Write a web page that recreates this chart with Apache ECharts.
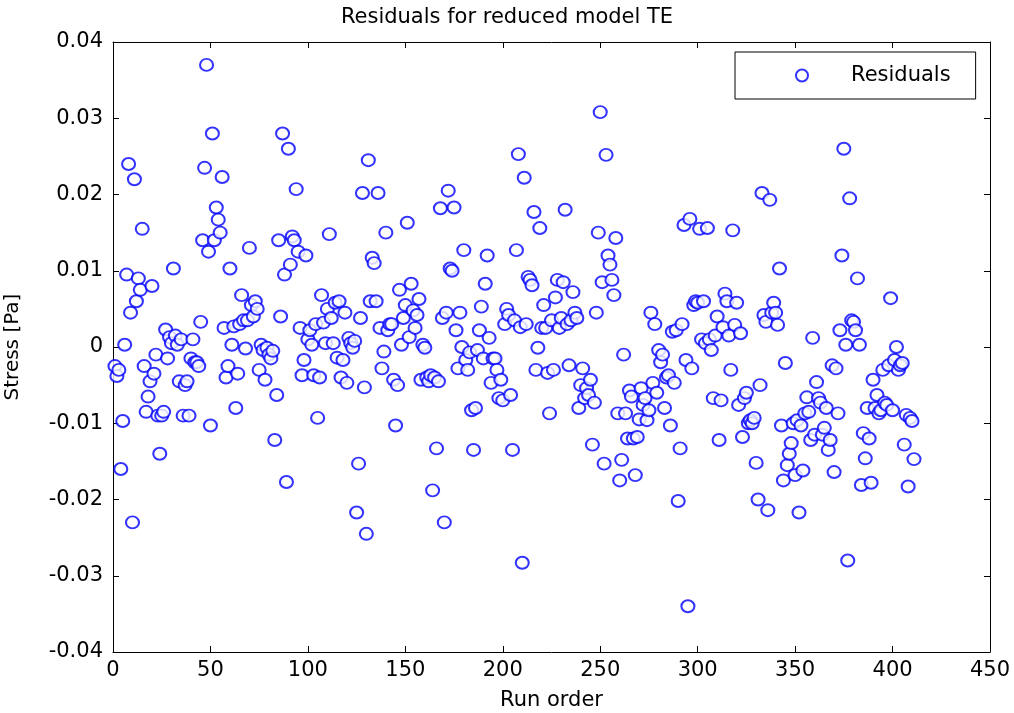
<!DOCTYPE html>
<html>
<head>
<meta charset="utf-8">
<script src="https://cdn.jsdelivr.net/npm/echarts@6/dist/echarts.min.js"></script>
<style>
html,body{margin:0;padding:0;background:#fff;}
#main{width:1014px;height:713px;}
</style>
</head>
<body>
<div id="main"></div>
<script>
const titleText = "Residuals for reduced model TE";
const xName = "Run order";
const yName = "Stress [Pa]";
const seriesName = "Residuals";
const xTicks = {min: 0, max: 450, interval: 50};
const yTicks = {min: -0.04, max: 0.04, interval: 0.01};

// residual values in run order (run = index + 1)
const residuals = [
 -0.0025,-0.0038,-0.003,-0.016,-0.0097,0.0003,0.0095,0.024,0.0045,-0.023,0.022,
 0.006,0.009,0.0075,0.0155,-0.0025,-0.0085,-0.0065,-0.0045,0.008,-0.0035,
 -0.001,-0.009,-0.014,-0.009,-0.0085,0.0023,-0.0015,0.0013,0.0005,0.0103,0.0015,
 0.0003,-0.0045,0.001,-0.009,-0.005,-0.0045,-0.009,-0.0015,0.001,-0.002,
 -0.002,-0.0025,0.0033,0.014,0.0235,0.037,0.0125,-0.0103,0.028,0.014,0.0183,
 0.0167,0.015,0.0223,0.0025,-0.004,-0.0025,0.0103,0.0003,0.0027,-0.008,
 -0.0035,0.003,0.0068,0.0035,-0.0002,0.0035,0.013,0.0055,0.004,0.006,
 0.005,-0.003,0.0003,-0.0004,-0.0043,-0.0001,-0.001,-0.0015,-0.0005,-0.0122,-0.0063,
 0.014,0.004,0.028,0.0095,-0.0177,0.026,0.0108,0.0145,0.014,0.0207,
 0.0125,0.0025,-0.0037,-0.0017,0.012,0.001,0.0022,0.0003,-0.0037,0.003,
 -0.0093,-0.004,0.0068,0.0032,0.0005,0.005,0.0148,0.0038,0.0005,0.0058,
 -0.0014,0.006,-0.004,-0.0017,0.0045,-0.0047,0.0012,0.0005,-0.0001,0.0008,-0.0217,
 -0.0153,0.0038,0.0202,-0.0053,-0.0245,0.0245,0.006,0.0117,0.011,0.006,
 0.0202,0.0025,-0.0028,-0.0006,0.015,0.0022,0.003,0.003,-0.0043,-0.0103,
 -0.005,0.0075,0.0003,0.0038,0.0055,0.0163,0.0013,0.0083,0.0048,0.0025,
 0.0042,0.0063,-0.0043,0.0003,-0.0001,-0.004,-0.0045,-0.0037,-0.0188,-0.004,
 -0.0133,-0.0045,0.0182,0.0038,-0.023,0.0045,0.0205,0.0103,0.01,0.0183,
 0.0022,-0.0028,0.0045,0.0,0.0127,-0.0017,-0.003,-0.0007,-0.0083,-0.0135,-0.008,
 -0.0004,0.0022,0.0053,-0.0015,0.0083,0.012,0.0012,-0.0047,-0.0015,-0.0015,
 -0.003,-0.0067,-0.0043,-0.007,0.003,0.005,0.0042,-0.0063,-0.0135,0.0035,
 0.0127,0.0253,0.0026,-0.0283,0.0222,0.003,0.0092,0.0088,0.0081,0.0177,
 -0.003,-0.0001,0.0156,0.0025,0.0055,0.0025,-0.0034,-0.0087,0.0035,-0.003,
 0.0065,0.0088,0.0025,0.0038,0.0085,0.018,0.003,-0.0024,0.0035,0.0072,0.0045,
 0.0038,-0.008,-0.005,-0.0028,-0.0067,-0.0054,-0.0063,-0.0043,-0.0128,-0.0073,
 0.0045,0.015,0.0308,0.0085,-0.0153,0.0252,0.012,0.0108,0.0088,0.0068,
 0.0143,-0.0087,-0.0175,-0.0148,-0.001,-0.0087,-0.012,-0.0057,-0.0065,-0.012,-0.0168,
 -0.0118,-0.0095,-0.0054,-0.0076,-0.0067,-0.0096,-0.0083,0.0045,-0.0047,0.003,-0.006,
 -0.0004,-0.002,-0.001,-0.008,-0.004,-0.0037,-0.0103,0.002,-0.0047,0.0022,-0.0202,
 -0.0133,0.003,0.016,-0.0017,-0.034,0.0168,-0.0028,0.0055,0.006,0.0058,
 0.0155,0.001,0.006,0.0005,0.0156,0.001,-0.0004,-0.0067,0.0015,0.004,-0.0122,
 -0.007,0.0026,0.007,0.006,0.0015,-0.003,0.0153,0.0029,0.0058,-0.0076,
 0.0018,-0.0118,-0.0067,-0.006,-0.01,-0.0096,-0.01,-0.0093,-0.0152,-0.02,
 -0.005,0.0202,0.0042,0.0033,-0.0214,0.0193,0.0045,0.0058,0.0045,0.0029,
 0.0103,-0.0103,-0.0175,-0.0021,-0.0155,-0.014,-0.0126,-0.01,-0.0168,-0.0096,
 -0.0217,-0.0103,-0.0162,-0.0087,-0.0066,-0.0085,-0.0122,0.0012,-0.0115,-0.0046,-0.0067,
 -0.0073,-0.0115,-0.0106,-0.008,-0.0135,-0.0122,-0.0024,-0.0164,-0.0028,-0.0087,
 0.0022,0.012,0.026,0.0003,-0.028,0.0195,0.0035,0.0033,0.0022,0.009,
 0.0003,-0.0181,-0.0113,-0.0146,-0.008,-0.012,-0.0178,-0.0043,-0.008,-0.0063,
 -0.0087,-0.0083,-0.003,-0.0073,-0.0076,-0.0024,0.0064,-0.0083,-0.0017,0.0,
 -0.003,-0.0024,-0.0021,-0.0128,-0.0089,-0.0183,-0.0093,-0.0097,-0.0147
];

const chart = echarts.init(document.getElementById('main'), null, {renderer: 'canvas'});
const font = 'DejaVu Sans, Verdana, sans-serif';
const fmtY = v => String(parseFloat(Number(v).toFixed(3)));

const baseAxisLine = {show: true, onZero: false, lineStyle: {color: '#000', width: 1}};
const tickInside = {show: true, inside: true, length: 6, lineStyle: {color: '#000'}};

const option = {
  animation: false,
  backgroundColor: '#fff',
  title: {
    text: titleText, left: 'center', top: 2,
    textStyle: {fontFamily: font, fontSize: 21, fontWeight: 'normal', color: '#000'}
  },
  legend: {
    data: [seriesName],
    left: 735, top: 52,
    backgroundColor: '#fff',
    borderColor: '#000', borderWidth: 1,
    padding: [13, 25, 13, 60],
    itemWidth: 88, itemHeight: 12,
    itemGap: 0,
    textStyle: {fontFamily: font, fontSize: 21, color: '#000'}
  },
  grid: {left: 113, right: 24, top: 42, bottom: 61, containLabel: false, outerBoundsMode: 'none'},
  xAxis: [{
    type: 'value', position: 'bottom',
    min: xTicks.min, max: xTicks.max, interval: xTicks.interval,
    name: xName, nameLocation: 'middle', nameGap: 38,
    nameTextStyle: {fontFamily: font, fontSize: 21, color: '#000'},
    axisLine: baseAxisLine, axisTick: tickInside, splitLine: {show: false},
    axisLabel: {fontFamily: font, fontSize: 21, color: '#000', margin: 8}
  }, {
    type: 'value', position: 'top',
    min: xTicks.min, max: xTicks.max, interval: xTicks.interval,
    axisLine: baseAxisLine, axisTick: tickInside, splitLine: {show: false},
    axisLabel: {show: false}
  }],
  yAxis: [{
    type: 'value', position: 'left',
    min: yTicks.min, max: yTicks.max, interval: yTicks.interval,
    name: yName, nameLocation: 'middle', nameGap: 90, nameRotate: 90,
    nameTextStyle: {fontFamily: font, fontSize: 20, color: '#000'},
    axisLine: baseAxisLine, axisTick: tickInside, splitLine: {show: false},
    axisLabel: {fontFamily: font, fontSize: 21, color: '#000', margin: 10, formatter: fmtY}
  }, {
    type: 'value', position: 'right',
    min: yTicks.min, max: yTicks.max, interval: yTicks.interval,
    axisLine: baseAxisLine, axisTick: tickInside, splitLine: {show: false},
    axisLabel: {show: false}
  }],
  series: [{
    name: seriesName,
    type: 'scatter',
    xAxisIndex: 0, yAxisIndex: 0,
    symbol: 'emptyCircle',
    symbolSize: [13, 12],
    itemStyle: {color: '#0000ff', borderColor: '#0000ff', borderWidth: 1},
    data: residuals.map((v, i) => [i + 1, v])
  }]
};
chart.setOption(option);
</script>
</body>
</html>
